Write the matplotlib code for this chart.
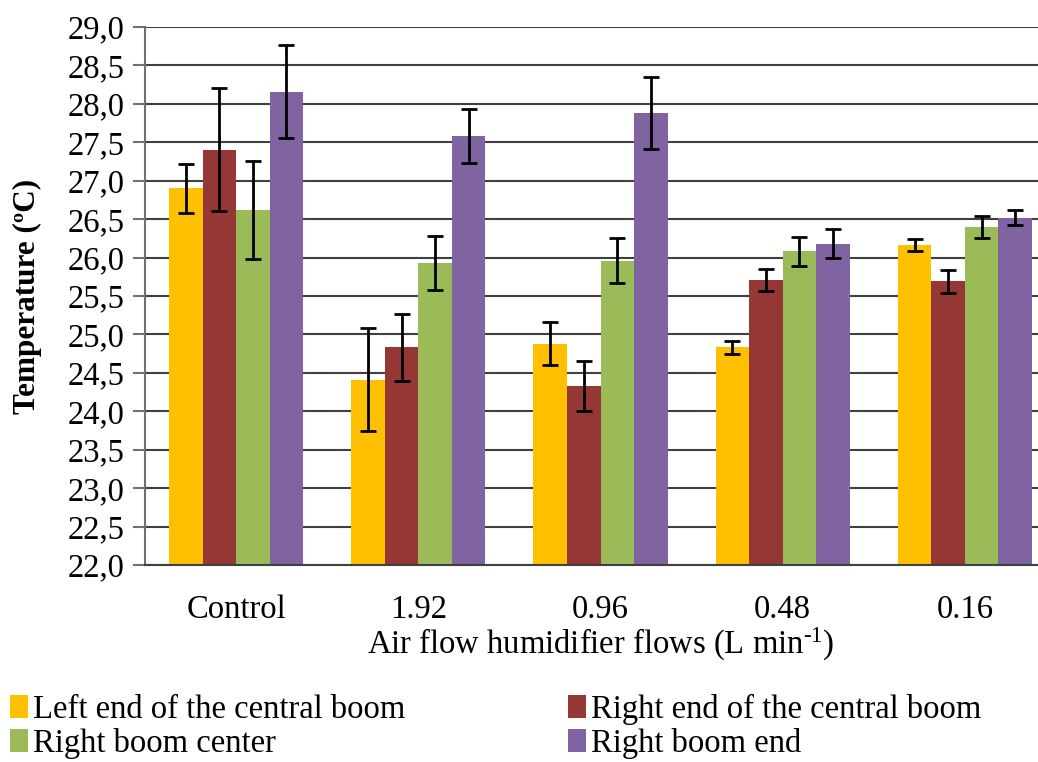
import matplotlib
matplotlib.use("Agg")
import matplotlib.pyplot as plt
import numpy as np
from matplotlib.patches import Patch
from matplotlib.ticker import FuncFormatter

plt.rcParams['font.family'] = ['Liberation Serif', 'DejaVu Serif']
plt.rcParams['mathtext.fontset'] = 'custom'
plt.rcParams['mathtext.rm'] = 'Liberation Serif'
plt.rcParams['mathtext.it'] = 'Liberation Serif:italic'

# data
categories = ["Control", "1.92", "0.96", "0.48", "0.16"]
series = ["Left end of the central boom", "Right end of the central boom",
          "Right boom center", "Right boom end"]
left_central = [26.90, 24.41, 24.88, 24.83, 26.16]
right_central = [27.40, 24.83, 24.33, 25.71, 25.69]
right_center = [26.62, 25.93, 25.96, 26.08, 26.40]
right_end = [28.16, 27.58, 27.88, 26.18, 26.52]
err_left_central = [0.32, 0.67, 0.28, 0.09, 0.08]
err_right_central = [0.80, 0.43, 0.32, 0.14, 0.15]
err_right_center = [0.64, 0.35, 0.29, 0.19, 0.14]
err_right_end = [0.60, 0.35, 0.47, 0.19, 0.10]
colors = ["#FFC000", "#953735", "#9BBB59", "#8064A2"]

values = [left_central, right_central, right_center, right_end]
errors = [err_left_central, err_right_central, err_right_center, err_right_end]

fig = plt.figure(figsize=(10.38, 7.62), dpi=100)
ax = fig.add_axes([145/1038, 197/762, 911/1038, 538/762])

x = np.arange(len(categories))
w = 0.184
for i in range(4):
    pos = x + (i - 1.5) * w
    ax.bar(pos, np.array(values[i]) - 22, width=w, bottom=22, color=colors[i],
           zorder=2)
    ax.errorbar(pos, values[i], yerr=errors[i], fmt='none', ecolor='black',
                elinewidth=2, capsize=6, capthick=2, zorder=3)

ax.set_xlim(-0.5, 4.5)
ax.set_ylim(22, 29)
ax.set_yticks(np.arange(22, 29.01, 0.5))
ax.yaxis.set_major_formatter(FuncFormatter(lambda v, p: f"{v:.1f}".replace(".", ",")))
ax.set_xticks(x)
ax.set_xticklabels(categories)
ax.yaxis.grid(True, color='#404040', linewidth=1.5, zorder=0)
ax.set_axisbelow(True)
for s in ['top', 'right']:
    ax.spines[s].set_visible(False)
ax.spines['left'].set_color('#707070')
ax.spines['bottom'].set_color('#404040')
ax.spines['left'].set_linewidth(1.5)
ax.spines['bottom'].set_linewidth(1.5)
ax.tick_params(axis='y', length=9, width=1.5, color='#707070', labelsize=23.5, pad=6)
ax.tick_params(axis='x', length=0, labelsize=23.5, pad=21)

ax.set_ylabel("Temperature (ºC)", fontsize=22.5, fontweight='bold', labelpad=18)
ax.set_xlabel("Air flow humidifier flows (L min$^{\\text{-1}}$)", fontsize=23.5, labelpad=1)

# row-wise legend order like the reference
order = [0, 2, 1, 3]
handles = [Patch(facecolor=colors[k]) for k in order]
labels = [series[k] for k in order]
fig.legend(handles, labels, loc='upper left', bbox_to_anchor=(0.0, 1 - 684/762),
           ncol=2, frameon=False, fontsize=23.5, handlelength=0.55, handleheight=0.7,
           handletextpad=0.15, columnspacing=5.0, labelspacing=0.1,
           borderaxespad=0, borderpad=0.3)

fig.savefig("out.png", dpi=100)
